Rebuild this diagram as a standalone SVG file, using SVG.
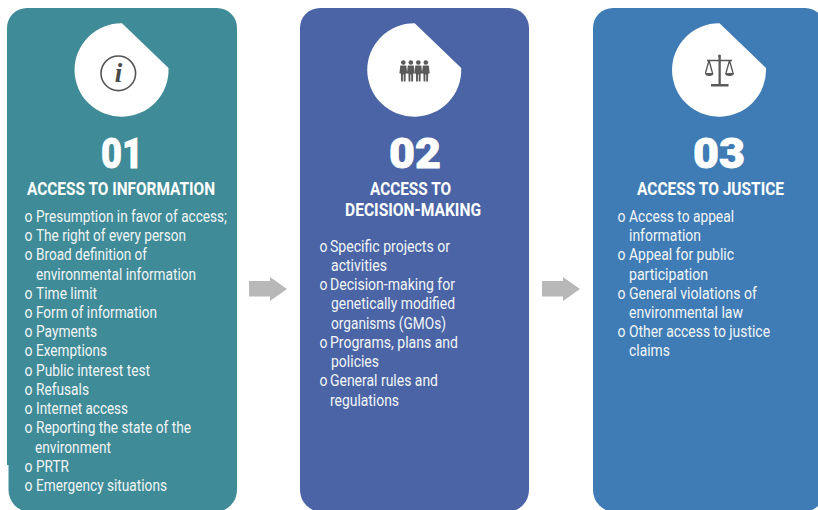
<svg xmlns="http://www.w3.org/2000/svg" width="818" height="510" viewBox="0 0 818 510">
<style>
text{font-family:Roboto,"Liberation Sans",sans-serif;fill:#fff}
.n{font-size:43px;font-weight:900;stroke:#fff;stroke-width:.8px}
.h{font-size:18.5px;font-weight:700}
.t{font-size:16.5px;font-weight:400;fill:#f2f6f7}
.c1{fill:#3f8b97}.c2{fill:#4a64a6}.c3{fill:#3f7cb5}
.w{fill:#fff}
.ic{fill:none;stroke:#555;stroke-width:1.3}
.if{fill:#5a5a5a}
</style>
<defs>
<path id="disc" d="M0 -46.7L46.5 -2A47 46.7 0 1 1 0 -46.7Z"/>
<g id="person"><circle cx="0" cy="-8.500" r="2.300"/><path d="M-3 -5.500H3L3.900 2.500H2.400L2.200 10.500H.4V3.500H-.4V10.500H-2.200L-2.400 2.500H-3.900Z"/></g>
</defs>
<rect width="818" height="510" fill="#fff"/>
<g id="node-01">
<path class="c1" d="M27 8H217A20 20 0 0 1 237 28V490A22 22 0 0 1 215 512H30A22 22 0 0 1 8.500 490V465H7V28A20 20 0 0 1 27 8Z"/>
<use href="#disc" x="122" y="70" class="w"/>
<circle cx="118.300" cy="73.300" r="17.300" fill="none" stroke="#555" stroke-width="1.600"/>
<text x="118.500" y="82" text-anchor="middle" style="font-family:'Liberation Serif',serif;font-weight:700;font-style:italic;font-size:27px;fill:#4a4a4a">i</text>
<text class="n" x="101" y="168" textLength="42" lengthAdjust="spacingAndGlyphs">01</text>
<text class="h" x="27" y="195" textLength="188" lengthAdjust="spacingAndGlyphs">ACCESS TO INFORMATION</text>
<text class="t" x="24.500" y="222" textLength="8" lengthAdjust="spacingAndGlyphs">o</text><text class="t" x="36" y="222" textLength="191" lengthAdjust="spacingAndGlyphs">Presumption in favor of access;</text>
<text class="t" x="24.500" y="241" textLength="8" lengthAdjust="spacingAndGlyphs">o</text><text class="t" x="36" y="241" textLength="150" lengthAdjust="spacingAndGlyphs">The right of every person</text>
<text class="t" x="24.500" y="260" textLength="8" lengthAdjust="spacingAndGlyphs">o</text><text class="t" x="36" y="260" textLength="111" lengthAdjust="spacingAndGlyphs">Broad definition of</text>
<text class="t" x="36" y="280" textLength="160" lengthAdjust="spacingAndGlyphs">environmental information</text>
<text class="t" x="24.500" y="299" textLength="8" lengthAdjust="spacingAndGlyphs">o</text><text class="t" x="36" y="299" textLength="61" lengthAdjust="spacingAndGlyphs">Time limit</text>
<text class="t" x="24.500" y="318" textLength="8" lengthAdjust="spacingAndGlyphs">o</text><text class="t" x="36" y="318" textLength="121" lengthAdjust="spacingAndGlyphs">Form of information</text>
<text class="t" x="24.500" y="337" textLength="8" lengthAdjust="spacingAndGlyphs">o</text><text class="t" x="36" y="337" textLength="61" lengthAdjust="spacingAndGlyphs">Payments</text>
<text class="t" x="24.500" y="356" textLength="8" lengthAdjust="spacingAndGlyphs">o</text><text class="t" x="36" y="356" textLength="71" lengthAdjust="spacingAndGlyphs">Exemptions</text>
<text class="t" x="24.500" y="376" textLength="8" lengthAdjust="spacingAndGlyphs">o</text><text class="t" x="36" y="376" textLength="114" lengthAdjust="spacingAndGlyphs">Public interest test</text>
<text class="t" x="24.500" y="395" textLength="8" lengthAdjust="spacingAndGlyphs">o</text><text class="t" x="36" y="395" textLength="53" lengthAdjust="spacingAndGlyphs">Refusals</text>
<text class="t" x="24.500" y="414" textLength="8" lengthAdjust="spacingAndGlyphs">o</text><text class="t" x="36" y="414" textLength="92" lengthAdjust="spacingAndGlyphs">Internet access</text>
<text class="t" x="24.500" y="433" textLength="8" lengthAdjust="spacingAndGlyphs">o</text><text class="t" x="36" y="433" textLength="155" lengthAdjust="spacingAndGlyphs">Reporting the state of the</text>
<text class="t" x="35" y="453" textLength="76" lengthAdjust="spacingAndGlyphs">environment</text>
<text class="t" x="24.500" y="472" textLength="8" lengthAdjust="spacingAndGlyphs">o</text><text class="t" x="36" y="472" textLength="33" lengthAdjust="spacingAndGlyphs">PRTR</text>
<text class="t" x="24.500" y="491" textLength="8" lengthAdjust="spacingAndGlyphs">o</text><text class="t" x="36" y="491" textLength="131" lengthAdjust="spacingAndGlyphs">Emergency situations</text>
</g>
<g id="node-02">
<path class="c2" d="M320 8H509A20 20 0 0 1 529 28V490A22 22 0 0 1 507 512H322A22 22 0 0 1 300 490V28A20 20 0 0 1 320 8Z"/>
<use href="#disc" x="414.700" y="70" class="w"/>
<g class="if">
<use href="#person" x="403.300" y="71"/><use href="#person" x="410.800" y="71"/><use href="#person" x="418.300" y="71"/><use href="#person" x="425.800" y="71"/>
</g>
<text class="n" x="389" y="168" textLength="52" lengthAdjust="spacingAndGlyphs">02</text>
<text class="h" x="370" y="195" textLength="81" lengthAdjust="spacingAndGlyphs">ACCESS TO</text>
<text class="h" x="345" y="216" textLength="136" lengthAdjust="spacingAndGlyphs">DECISION-MAKING</text>
<text class="t" x="319.500" y="252" textLength="8" lengthAdjust="spacingAndGlyphs">o</text><text class="t" x="330" y="252" textLength="120" lengthAdjust="spacingAndGlyphs">Specific projects or</text>
<text class="t" x="331" y="271" textLength="56" lengthAdjust="spacingAndGlyphs">activities</text>
<text class="t" x="319.500" y="290" textLength="8" lengthAdjust="spacingAndGlyphs">o</text><text class="t" x="330" y="290" textLength="125" lengthAdjust="spacingAndGlyphs">Decision-making for</text>
<text class="t" x="331" y="309" textLength="124" lengthAdjust="spacingAndGlyphs">genetically modified</text>
<text class="t" x="331" y="329" textLength="115" lengthAdjust="spacingAndGlyphs">organisms (GMOs)</text>
<text class="t" x="319.500" y="348" textLength="8" lengthAdjust="spacingAndGlyphs">o</text><text class="t" x="330" y="348" textLength="128" lengthAdjust="spacingAndGlyphs">Programs, plans and</text>
<text class="t" x="331" y="367" textLength="48" lengthAdjust="spacingAndGlyphs">policies</text>
<text class="t" x="319.500" y="386" textLength="8" lengthAdjust="spacingAndGlyphs">o</text><text class="t" x="330" y="386" textLength="108" lengthAdjust="spacingAndGlyphs">General rules and</text>
<text class="t" x="330" y="406" textLength="69" lengthAdjust="spacingAndGlyphs">regulations</text>
</g>
<g id="node-03">
<path class="c3" d="M613 8H805A20 20 0 0 1 825 28V490A22 22 0 0 1 803 512H615A22 22 0 0 1 593 490V28A20 20 0 0 1 613 8Z"/>
<use href="#disc" x="719.500" y="70" class="w"/>
<g>
<path class="ic" d="M707 60.500H732M709 60.500L705.500 73M709 60.500L712.500 73M729.500 60.500L726 73M729.500 60.500L733 73"/>
<path class="if" d="M719.500 54.500a1.500 1.500 0 1 1 -.01 0ZM705 73H713.500A4.250 3 0 0 1 705 73ZM725 73H734A4.500 3 0 0 1 725 73ZM711 84H728.500V86.500H711ZM718.500 57H720.800V84H718.500Z"/>
</g>
<text class="n" x="693" y="168" textLength="52" lengthAdjust="spacingAndGlyphs">03</text>
<text class="h" x="637" y="195" textLength="147" lengthAdjust="spacingAndGlyphs">ACCESS TO JUSTICE</text>
<text class="t" x="617.500" y="222" textLength="8" lengthAdjust="spacingAndGlyphs">o</text><text class="t" x="629" y="222" textLength="105" lengthAdjust="spacingAndGlyphs">Access to appeal</text>
<text class="t" x="629" y="241" textLength="72" lengthAdjust="spacingAndGlyphs">information</text>
<text class="t" x="617.500" y="260" textLength="8" lengthAdjust="spacingAndGlyphs">o</text><text class="t" x="629" y="260" textLength="105" lengthAdjust="spacingAndGlyphs">Appeal for public</text>
<text class="t" x="629" y="280" textLength="79" lengthAdjust="spacingAndGlyphs">participation</text>
<text class="t" x="617.500" y="299" textLength="8" lengthAdjust="spacingAndGlyphs">o</text><text class="t" x="629" y="299" textLength="128" lengthAdjust="spacingAndGlyphs">General violations of</text>
<text class="t" x="629" y="318" textLength="114" lengthAdjust="spacingAndGlyphs">environmental law</text>
<text class="t" x="617.500" y="337" textLength="8" lengthAdjust="spacingAndGlyphs">o</text><text class="t" x="629" y="337" textLength="141" lengthAdjust="spacingAndGlyphs">Other access to justice</text>
<text class="t" x="629" y="356" textLength="41" lengthAdjust="spacingAndGlyphs">claims</text>
</g>
<g id="connectors" fill="#b8b8b8">
<path d="M249 281H270V277L287 289L270 301V296.500H249Z"/>
<path d="M542 281H563V277L580 289L563 301V296.500H542Z"/>
</g>
</svg>
